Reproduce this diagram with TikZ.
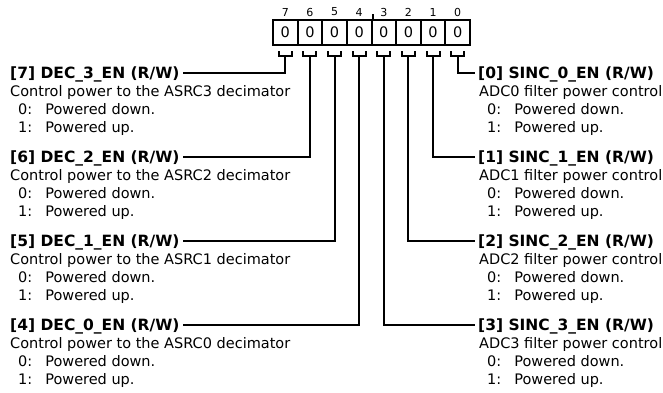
\documentclass[tikz,border=0pt]{standalone}
\usepackage{fontspec}
\setmainfont{DejaVu Sans}
\usepackage{tikz}
\usetikzlibrary{positioning,calc}

\tikzset{
  cell/.style={draw,line width=2pt,minimum width=24.625pt,minimum height=25pt,inner sep=0pt,font=\fontsize{14.5}{18}\selectfont},
  bitnum/.style={font=\fontsize{11}{12}\selectfont,inner sep=0pt},
  title/.style={font=\fontsize{15.5}{18}\selectfont\bfseries,inner xsep=3pt,inner ysep=0pt,text height=10.5pt,text depth=0pt},
  desc/.style={font=\fontsize{14.5}{18}\selectfont,align=left,inner sep=0pt},
  wire/.style={line width=2pt},
}

\begin{document}
\begin{tikzpicture}[x=1pt,y=-1pt]
  \useasboundingbox (0,0) rectangle (663,392);

  % register cells and bit numbers
  \foreach \bit in {0,...,7}{
    \node[cell] (c\bit) at ({285.3125+24.625*(7-\bit)},32.5) {0};
    \node[bitnum] (n\bit) at ({285.3125+24.625*(7-\bit)},12) {\bit};
    \draw[wire] ([xshift=-6.5pt,yshift=-5pt]c\bit.south) -- ++(0,5) -- ++(13,0) -- ++(0,-5);
    \coordinate (k\bit) at ([yshift=-10pt]c\bit.south);
  }
  \draw[wire] (c4.north east) -- ++(0,-5);

  % left column
  \foreach \bit/\idx/\lev in {7/3/73,6/2/157,5/1/241,4/0/325}{
    \node[title,anchor=west] (t\bit) at (7,\lev) {[\bit] DEC\_\idx\_EN (R/W)};
    \node[desc,anchor=north west] (d\bit) at (10,\lev+12.5)
      {Control power to the ASRC\idx\ decimator\\
       \hspace*{8pt}0:\hspace{13pt}Powered down.\\
       \hspace*{8pt}1:\hspace{13pt}Powered up.};
    \draw[wire] (k\bit) |- (t\bit.east);
  }

  % right column
  \foreach \bit/\lev in {0/73,1/157,2/241,3/325}{
    \node[title,anchor=west] (t\bit) at (475,\lev) {[\bit] SINC\_\bit\_EN (R/W)};
    \node[desc,anchor=north west] (d\bit) at (479,\lev+12.5)
      {ADC\bit\ filter power control\\
       \hspace*{8pt}0:\hspace{13pt}Powered down.\\
       \hspace*{8pt}1:\hspace{13pt}Powered up.};
    \draw[wire] (k\bit) |- (t\bit.west);
  }
\end{tikzpicture}
\end{document}
